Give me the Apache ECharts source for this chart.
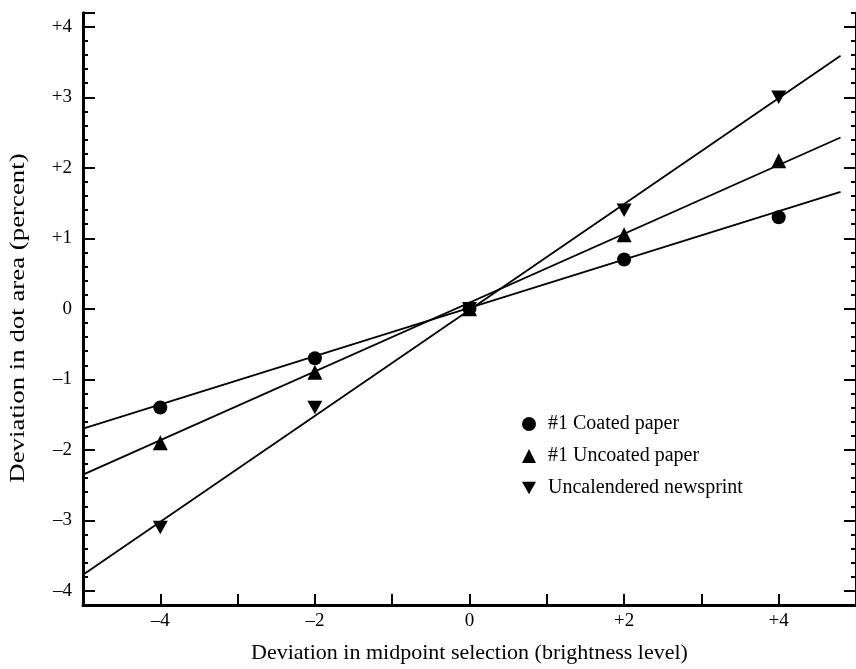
<!DOCTYPE html>
<html>
<head>
<meta charset="utf-8">
<script src="https://cdn.jsdelivr.net/npm/echarts@6/dist/echarts.min.js"></script>
<style>
html,body{margin:0;padding:0;background:#fff;}
#c{width:856px;height:669px;}
</style>
</head>
<body>
<div id="c"></div>
<script>
// ---- data ----
var xValues = [-4, -2, 0, 2, 4];
var coated = [-1.4, -0.7, 0, 0.7, 1.3];
var uncoated = [-1.9, -0.9, 0, 1.05, 2.1];
var newsprint = [-3.1, -1.4, 0, 1.4, 3.0];
// fitted lines (end points)
var coatedFit = [[-5, -1.70], [4.8, 1.66]];
var uncoatedFit = [[-5, -2.35], [4.8, 2.43]];
var newsprintFit = [[-5, -3.77], [4.8, 3.59]];
var seriesNames = ['#1 Coated paper', '#1 Uncoated paper', 'Uncalendered newsprint'];
var xTickLabels = [-4, -2, 0, 2, 4];
var yTickLabels = [-4, -3, -2, -1, 0, 1, 2, 3, 4];
var xTitle = 'Deviation in midpoint selection (brightness level)';
var yTitle = 'Deviation in dot area (percent)';

var FONT = '"Liberation Serif", "Times New Roman", serif';
var downTri = 'path://M0,0L10,0L5,9Z';

function pairs(ys) { return xValues.map(function (x, i) { return [x, ys[i]]; }); }
function fmt(v) {
  v = Math.round(v * 10) / 10;
  if (v > 0) return '+' + v;
  if (v < 0) return '\u2013' + Math.abs(v);
  return '0';
}

var chart = echarts.init(document.getElementById('c'), null, {renderer: 'canvas'});
var yMajor = yTickLabels.concat([4.2]);

var option = {
  backgroundColor: '#fff',
  animation: false,
  grid: {left: 83, top: 12.7, width: 776, height: 596.3, containLabel: false},
  graphic: [{
    type: 'text',
    x: 18, y: 318,
    rotation: Math.PI / 2,
    scaleX: 1.22, scaleY: 1,
    silent: true,
    style: {text: yTitle, font: '22px "Liberation Serif", serif', fill: '#000',
      align: 'center', verticalAlign: 'middle'}
  }],
  legend: {
    orient: 'vertical',
    left: 517, top: 409,
    itemWidth: 14, itemHeight: 14, itemGap: 12,
    textStyle: {fontFamily: FONT, fontSize: 20, color: '#000', padding: [0, 0, 0, 7]},
    data: [
      {name: seriesNames[0], icon: 'circle'},
      {name: seriesNames[1], icon: 'triangle'},
      {name: seriesNames[2], icon: downTri}
    ]
  },
  xAxis: {
    type: 'value', min: -5, max: 5, interval: 1,
    name: xTitle,
    nameLocation: 'middle', nameGap: 37,
    nameTextStyle: {fontFamily: FONT, fontSize: 22, color: '#000'},
    axisLine: {onZero: false, lineStyle: {color: '#000', width: 3}},
    axisTick: {inside: true, length: 11, lineStyle: {color: '#000', width: 2}},
    axisLabel: {customValues: xTickLabels, formatter: fmt, margin: 7,
      fontFamily: FONT, fontSize: 19, color: '#000'},
    splitLine: {show: false}
  },
  yAxis: [
    { // minor ticks left
      type: 'value', min: -4.2, max: 4.2, interval: 0.2, position: 'left',
      axisLine: {show: true, onZero: false, lineStyle: {color: '#000', width: 3}},
      axisTick: {inside: true, length: 5, lineStyle: {color: '#000', width: 2}},
      axisLabel: {show: false},
      splitLine: {show: false}
    },
    { // major ticks + labels left
      type: 'value', min: -4.2, max: 4.2, position: 'left',
      axisLine: {show: false, onZero: false},
      axisTick: {show: true, inside: true, length: 12, customValues: yMajor,
        lineStyle: {color: '#000', width: 2}},
      axisLabel: {show: true, customValues: yTickLabels, formatter: fmt, margin: 11,
        fontFamily: FONT, fontSize: 19, color: '#000'},
      splitLine: {show: false}
    },
    { // minor ticks right
      type: 'value', min: -4.2, max: 4.2, interval: 0.2, position: 'right',
      axisLine: {show: true, onZero: false, lineStyle: {color: '#000', width: 2}},
      axisTick: {inside: true, length: 5, lineStyle: {color: '#000', width: 2}},
      axisLabel: {show: false},
      splitLine: {show: false}
    },
    { // major ticks right
      type: 'value', min: -4.2, max: 4.2, position: 'right',
      axisLine: {show: false, onZero: false},
      axisTick: {show: true, inside: true, length: 12, customValues: yTickLabels,
        lineStyle: {color: '#000', width: 2}},
      axisLabel: {show: false},
      splitLine: {show: false}
    }
  ],
  series: [
    {type: 'line', data: coatedFit, symbol: 'none', silent: true,
      lineStyle: {color: '#000', width: 1.8}, z: 2},
    {type: 'line', data: uncoatedFit, symbol: 'none', silent: true,
      lineStyle: {color: '#000', width: 1.8}, z: 2},
    {type: 'line', data: newsprintFit, symbol: 'none', silent: true,
      lineStyle: {color: '#000', width: 1.8}, z: 2},
    {name: seriesNames[0], type: 'scatter', data: pairs(coated), symbol: 'circle',
      symbolSize: 14, itemStyle: {color: '#000', opacity: 1}, z: 3},
    {name: seriesNames[1], type: 'scatter', data: pairs(uncoated), symbol: 'triangle',
      symbolSize: 15, itemStyle: {color: '#000', opacity: 1}, z: 3},
    {name: seriesNames[2], type: 'scatter', data: pairs(newsprint), symbol: downTri,
      symbolSize: 15, symbolKeepAspect: true, itemStyle: {color: '#000', opacity: 1}, z: 3}
  ]
};
chart.setOption(option);
</script>
</body>
</html>
